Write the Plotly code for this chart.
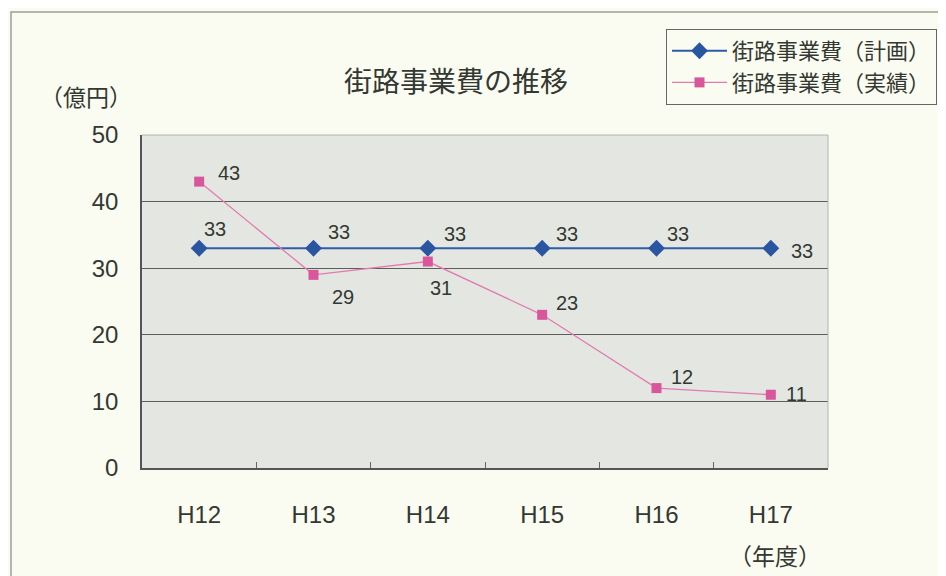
import plotly.graph_objects as go

years = ["H12", "H13", "H14", "H15", "H16", "H17"]
plan = [33, 33, 33, 33, 33, 33]
actual = [43, 29, 31, 23, 12, 11]
plan_name = "街路事業費（計画）"
actual_name = "街路事業費（実績）"

# label offsets (pixels) relative to each marker
plan_off = [(16, -19), (25, -16), (27, -14), (25, -14), (21, -14), (31, 3)]
actual_off = [(30, -9), (29, 22), (13, 26), (25, -12), (25, -11), (26, -1)]

FONT = "Liberation Sans, Arial, Noto Sans CJK JP, sans-serif"
JFONT = "Noto Sans CJK JP, sans-serif"
TXT = "#333833"

OFF = 8  # page body margin
W, H = 946 - OFF, 576 - OFF
L, R, T, B = 142, 828, 135, 468  # plot area in reference pixels


def px(x):
    return (x - L) / (R - L)


def py(y):
    return (B - y) / (B - T)


fig = go.Figure()
fig.add_trace(go.Scatter(
    x=years, y=plan, name=plan_name, mode="lines+markers",
    line=dict(color="#2f5ca8", width=2),
    marker=dict(symbol="diamond", size=13, color="#2a55a0"),
    cliponaxis=False,
))
fig.add_trace(go.Scatter(
    x=years, y=actual, name=actual_name, mode="lines+markers",
    line=dict(color="#e27ab0", width=1.3),
    marker=dict(symbol="square", size=10, color="#d9569c"),
    cliponaxis=False,
))

annotations = []
for xs, ys, offs in ((years, plan, plan_off), (years, actual, actual_off)):
    for xv, yv, (dx, dy) in zip(xs, ys, offs):
        annotations.append(dict(
            x=xv, y=yv, xref="x", yref="y", text=str(yv), showarrow=False,
            xshift=dx, yshift=-dy, xanchor="center", yanchor="middle",
            font=dict(family=FONT, size=20, color=TXT),
        ))

annotations += [
    dict(text="街路事業費の推移", xref="paper", yref="paper",
         x=px(456), y=py(80), showarrow=False, xanchor="center", yanchor="middle",
         font=dict(family=JFONT, size=28, color=TXT)),
    dict(text="（億円）", xref="paper", yref="paper",
         x=px(86), y=py(96), showarrow=False, xanchor="center", yanchor="middle",
         font=dict(family=JFONT, size=23, color=TXT)),
    dict(text="（年度）", xref="paper", yref="paper",
         x=px(775), y=py(555), showarrow=False, xanchor="center", yanchor="middle",
         font=dict(family=JFONT, size=23, color=TXT)),
]

fig.update_layout(
    width=W, height=H,
    margin=dict(l=L - OFF, r=W - (R - OFF), t=T - OFF, b=H - (B - OFF), pad=0,
                autoexpand=False),
    paper_bgcolor="#fbfcf1",
    plot_bgcolor="#e4e7e1",
    font=dict(family=FONT, color=TXT),
    showlegend=True,
    legend=dict(
        x=px(666), y=py(29), xanchor="left", yanchor="top",
        bgcolor="rgba(251,252,241,1)", bordercolor="#666666", borderwidth=1,
        font=dict(family=JFONT, size=22, color=TXT),
        itemwidth=55, tracegroupgap=0,
    ),
    xaxis=dict(
        type="category", range=[-0.5, 5.5],
        showgrid=False, showline=True, linecolor="#555555", linewidth=1.5,
        ticks="inside", tickson="boundaries", ticklen=6, tickcolor="#666666",
        tickfont=dict(family=FONT, size=24, color=TXT),
        ticklabelstandoff=24,
    ),
    yaxis=dict(
        range=[0, 50], tickvals=[0, 10, 20, 30, 40, 50],
        showgrid=True, gridcolor="#5a5f5a", gridwidth=1,
        showline=True, linecolor="#555555", linewidth=1.5,
        zeroline=False, ticks="",
        tickfont=dict(family=FONT, size=24, color=TXT),
        ticklabelstandoff=17,
    ),
    shapes=[
        dict(type="rect", xref="paper", yref="paper",
             x0=px(11), y0=py(600), x1=px(970), y1=py(12),
             line=dict(color="#9a9e98", width=1.5), fillcolor="rgba(0,0,0,0)", layer="below"),
        dict(type="line", xref="paper", yref="paper", x0=0, x1=1, y0=1, y1=1,
             line=dict(color="#b0b4ae", width=1)),
        dict(type="line", xref="paper", yref="paper", x0=1, x1=1, y0=0, y1=1,
             line=dict(color="#b0b4ae", width=1)),
    ],
    annotations=annotations,
)

fig.write_html("out.html")
